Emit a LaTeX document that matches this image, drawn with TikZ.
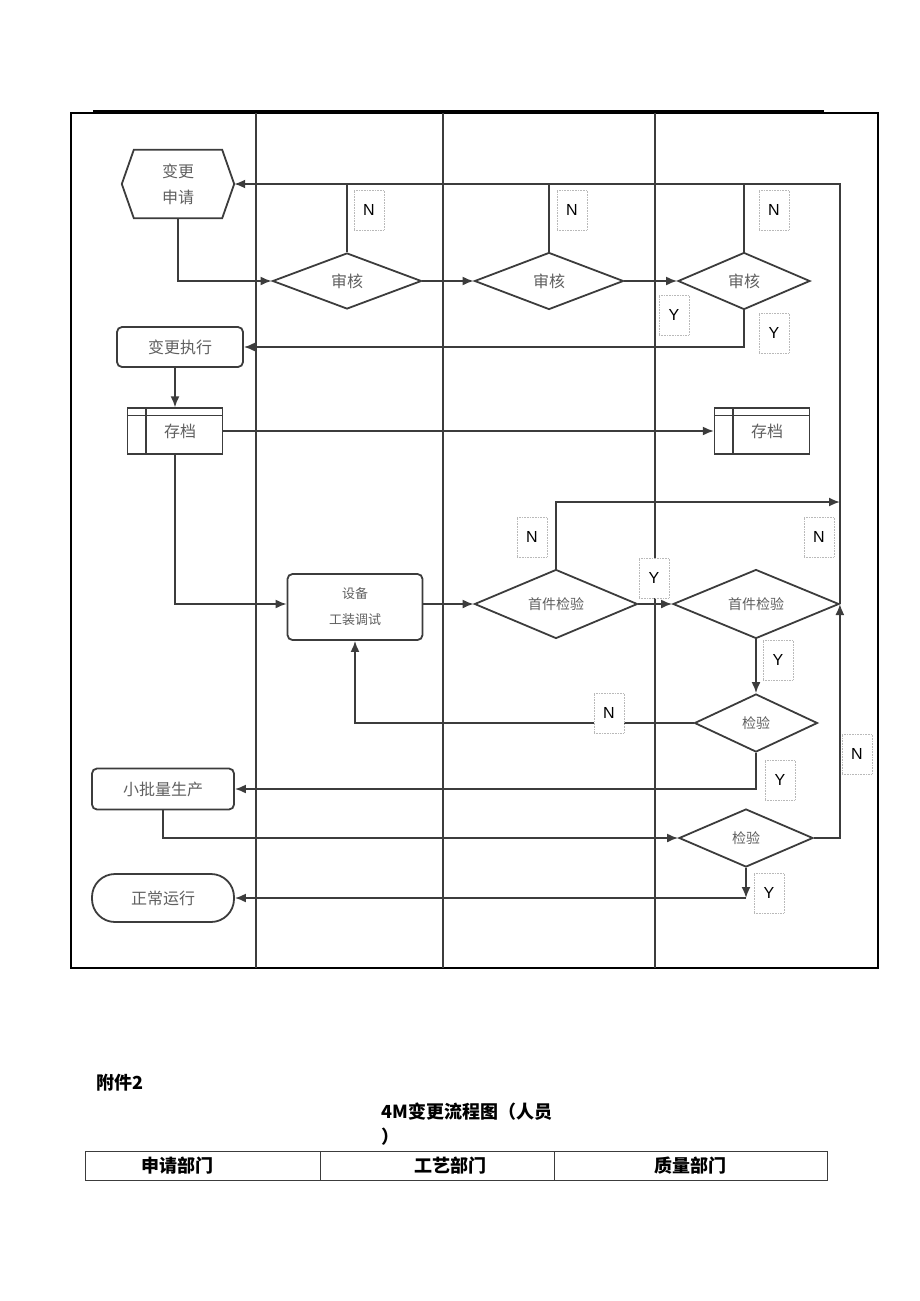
\documentclass[tikz,border=0pt]{standalone}
\usepackage{fontspec}
\setmainfont{Liberation Sans}
\newfontfamily\cjk{Noto Sans CJK SC}
\usetikzlibrary{shapes.geometric,arrows.meta}
\definecolor{ln}{RGB}{60,60,60}
\definecolor{tx}{RGB}{95,95,95}
\tikzset{
  conn/.style={draw=ln,line width=1.8pt},
  arr/.style={conn,-{Latex[length=11pt,width=9pt]}},
  lane/.style={draw=ln,line width=1.1pt},
  txt/.style={font=\cjk\fontsize{16}{22}\selectfont,text=tx,align=center},
  dec/.style={diamond,draw=ln,line width=1.8pt,inner sep=0pt,txt},
  proc/.style={rectangle,rounded corners=5pt,draw=ln,line width=1.8pt,txt},
  arcbox/.style={rectangle,draw=ln,line width=1.3pt,txt,minimum width=95pt,minimum height=46pt},
  yn/.style={rectangle,draw=gray!55,densely dotted,line width=0.6pt,fill=white,
    minimum width=30pt,minimum height=40pt,font=\fontsize{16}{16}\selectfont,text=black},
  btxt/.style={font=\cjk\bfseries\fontsize{18}{25}\selectfont,text=black}
}
\begin{document}
\begin{tikzpicture}[x=1pt,y=-1pt]
\useasboundingbox (0,0) rectangle (920,1301);
% frame
\draw[line width=2.4pt,draw=black] (93,111) -- (824,111);
\draw[lane,draw=black] (71,113) rectangle (878,968);
\draw[lane] (256,113) -- (256,968);
\draw[lane] (443,113) -- (443,968);
\draw[lane] (655,113) -- (655,968);

% nodes
\node[txt,minimum width=112pt,minimum height=68pt] (hex) at (178,184) {变更\\[4pt]申请};
\draw[conn] (hex.west) -- ([xshift=12pt]hex.north west) -- ([xshift=-12pt]hex.north east) -- (hex.east) -- ([xshift=-12pt]hex.south east) -- ([xshift=12pt]hex.south west) -- cycle;

\node[dec,minimum width=149pt,minimum height=56pt] (d1) at (347,281) {审核};
\node[dec,minimum width=149pt,minimum height=57pt] (d2) at (549,281) {审核};
\node[dec,minimum width=132pt,minimum height=57pt] (d3) at (744,281) {审核};

\node[proc,minimum width=126pt,minimum height=40pt] (exec) at (180,347) {变更执行};

\node[arcbox] (arc1) at (175,431) {\hspace*{10pt}存档};
\draw[line width=1.3pt,draw=ln] ([yshift=-8pt]arc1.north west) -- ([yshift=-8pt]arc1.north east);
\draw[line width=1.3pt,draw=ln] ([xshift=19pt]arc1.north west) -- ([xshift=19pt]arc1.south west);
\node[arcbox] (arc2) at (762,431) {\hspace*{10pt}存档};
\draw[line width=1.3pt,draw=ln] ([yshift=-8pt]arc2.north west) -- ([yshift=-8pt]arc2.north east);
\draw[line width=1.3pt,draw=ln] ([xshift=19pt]arc2.north west) -- ([xshift=19pt]arc2.south west);

\node[proc,minimum width=135pt,minimum height=66pt,font=\cjk\fontsize{13}{20}\selectfont] (equip) at (355,607) {设备\\[6pt]工装调试};

\node[dec,minimum width=163pt,minimum height=57pt,font=\cjk\fontsize{14}{20}\selectfont] (fi1) at (556,604) {首件检验};
\node[dec,minimum width=166pt,minimum height=59pt,font=\cjk\fontsize{14}{20}\selectfont] (fi2) at (756,604) {首件检验};
\node[dec,minimum width=123pt,minimum height=58pt,font=\cjk\fontsize{14}{20}\selectfont] (ins1) at (756,723) {检验};
\node[dec,minimum width=134pt,minimum height=58pt,font=\cjk\fontsize{14}{20}\selectfont] (ins2) at (746,838) {检验};

\node[proc,minimum width=142pt,minimum height=41pt] (small) at (163,789) {小批量生产};
\node[proc,rounded corners=23pt,minimum width=142pt,minimum height=48pt] (normal) at (163,898) {正常运行};

\coordinate (tr) at (840,184);
\coordinate (fn) at (840,502);

% connectors
\draw[arr] (tr) -- (hex.east);
\draw[arr] (hex.south) |- (d1.west);
\draw[arr] (d1.east) -- (d2.west);
\draw[arr] (d2.east) -- (d3.west);
\draw[conn] (d1.north) -- (d1.north |- tr);
\draw[conn] (d2.north) -- (d2.north |- tr);
\draw[conn] (d3.north) -- (d3.north |- tr);
\draw[arr] (d3.south) |- (exec.east);
\draw[arr] (arc1.north |- exec.south) -- (arc1.north);
\draw[arr] (arc1.east) -- (arc2.west);
\draw[arr] (arc1.south) |- (equip.west |- fi1.west);
\draw[arr] (equip.east |- fi1.west) -- (fi1.west);
\draw[arr] (fi1.north) |- (fn);
\draw[arr] (fi1.east) -- (fi2.west);
\draw[conn] (fi2.east) -- (fi2.east |- tr) -- (tr);
\draw[arr] (fi2.south) -- (ins1.north);
\draw[arr] (ins1.west) -| (equip.south);
\draw[arr] (ins1.south) |- (small.east);
\draw[arr] (small.south) |- (ins2.west);
\draw[arr] (ins2.east) -| (fi2.east);
\draw[arr] (ins2.south) -- (ins2.south |- normal.east);
\draw[arr] (ins2.south |- normal.east) -- (normal.east);

% Y/N labels
\node[yn] (n1) at (369,210) {N};
\node[yn] (n2) at (572,210) {N};
\node[yn] (n3) at (774,210) {N};
\node[yn] (y3a) at (674,315) {Y};
\node[yn] (y3b) at (774,333) {Y};
\node[yn] (nf1) at (532,537) {N};
\node[yn] (nf2) at (819,537) {N};
\node[yn] (yf) at (654,578) {Y};
\node[yn] (yf2) at (778,660) {Y};
\node[yn] (ni1) at (609,713) {N};
\node[yn] (yi1) at (780,780) {Y};
\node[yn] (ni2) at (857,754) {N};
\node[yn] (yi2) at (769,893) {Y};

% bottom part
\node[btxt,anchor=west] (att) at (93,1083) {附件2};
\node[btxt,anchor=north west,align=left] (title) at (378,1099) {4M变更流程图（人员\\）};
\draw[line width=0.9pt,draw=ln] (85,1151) rectangle (827,1180);
\draw[line width=0.9pt,draw=ln] (320,1151) -- (320,1180);
\draw[line width=0.9pt,draw=ln] (554,1151) -- (554,1180);
\node[btxt] (h1) at (177,1166) {申请部门};
\node[btxt] (h2) at (450,1166) {工艺部门};
\node[btxt] (h3) at (690,1166) {质量部门};
\end{tikzpicture}
\end{document}
